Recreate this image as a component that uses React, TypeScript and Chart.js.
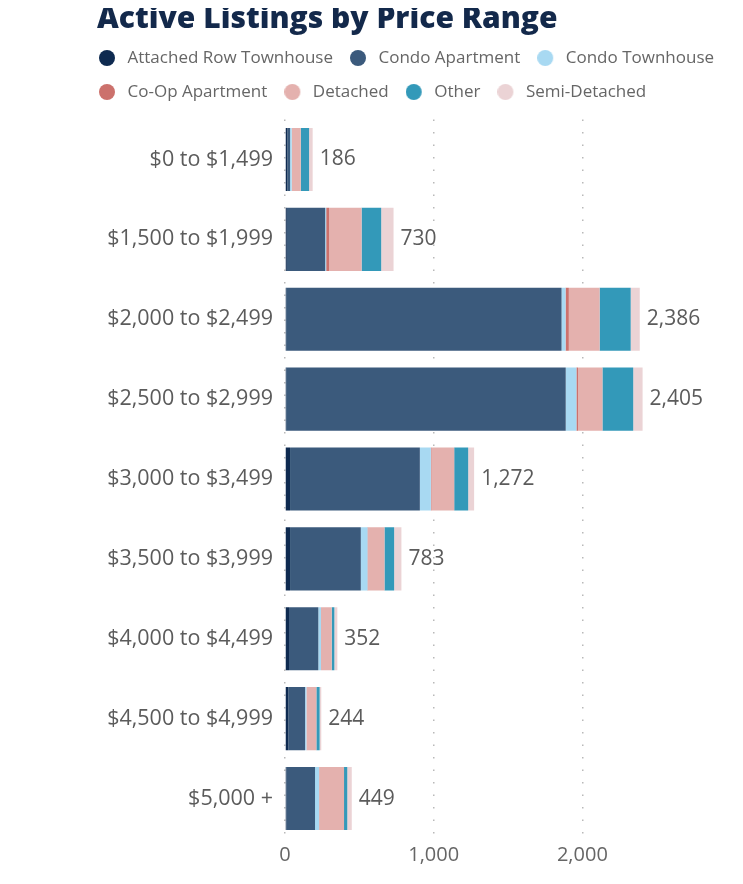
import React, { useEffect, useRef } from 'react';
import { Chart, registerables } from 'chart.js';

Chart.register(...registerables);

const title = 'Active Listings by Price Range';
const categories = [
  '$0 to $1,499',
  '$1,500 to $1,999',
  '$2,000 to $2,499',
  '$2,500 to $2,999',
  '$3,000 to $3,499',
  '$3,500 to $3,999',
  '$4,000 to $4,499',
  '$4,500 to $4,999',
  '$5,000 +',
];
const seriesNames = [
  'Attached Row Townhouse',
  'Condo Apartment',
  'Condo Townhouse',
  'Co-Op Apartment',
  'Detached',
  'Other',
  'Semi-Detached',
];
const attachedRowTownhouse = [16, 12, 8, 8, 34, 34, 27, 22, 9];
const condoApartment = [18, 258, 1852, 1880, 873, 476, 197, 113, 193];
const condoTownhouse = [11, 7, 27, 72, 74, 45, 18, 9, 27];
const coOpApartment = [0, 20, 22, 11, 4, 4, 0, 0, 0];
const detached = [61, 218, 207, 164, 153, 110, 72, 67, 168];
const other = [56, 132, 209, 207, 94, 65, 18, 22, 22];
const semiDetached = [24, 83, 61, 63, 40, 49, 20, 11, 30];
const xTickValues = [0, 1000, 2000];

const seriesValues = [
  attachedRowTownhouse,
  condoApartment,
  condoTownhouse,
  coOpApartment,
  detached,
  other,
  semiDetached,
];
const seriesColors = ['#0e2a50', '#3b5a7c', '#a8d9f2', '#cc716c', '#e4b1ae', '#3399b9', '#ebd3d5'];

const FONT = '"Open Sans", Lato, "DejaVu Sans", sans-serif';

function makeDot(color: string) {
  const c = document.createElement('canvas');
  c.width = 20;
  c.height = 16;
  const ctx = c.getContext('2d')!;
  ctx.fillStyle = color;
  ctx.beginPath();
  ctx.arc(8, 8, 8, 0, Math.PI * 2);
  ctx.fill();
  return c;
}

const totalsPlugin = {
  id: 'totals',
  afterDatasetsDraw(chart: any) {
    const { ctx, scales } = chart;
    const xs = scales.x;
    const ys = scales.y;
    ctx.save();
    ctx.font = `400 21px ${FONT}`;
    ctx.fillStyle = '#5b5b5b';
    ctx.textAlign = 'left';
    ctx.textBaseline = 'middle';
    categories.forEach((_, i) => {
      const total = seriesValues.reduce((s, arr) => s + arr[i], 0);
      const x = xs.getPixelForValue(total) + 7;
      const y = ys.getPixelForValue(i);
      ctx.fillText(total.toLocaleString('en-US'), x, y);
    });
    ctx.restore();
  },
};

const layoutTweaks = {
  id: 'layoutTweaks',
  beforeLayout(chart: any) {
    const lg = chart.legend;
    if (lg && !lg._patchedFit) {
      const f = lg.fit;
      lg.fit = function () {
        f.call(this);
        this.height += 9;
      };
      lg._patchedFit = true;
    }
  },
  afterLayout(chart: any) {
    if (chart.titleBlock) {
      chart.titleBlock.left += 15;
    }
  },
};

export default function App() {
  const ref = useRef<HTMLCanvasElement>(null);

  useEffect(() => {
    if (!ref.current) return;
    const dots = seriesColors.map(makeDot);
    const chart = new Chart(ref.current, {
      type: 'bar',
      data: {
        labels: categories,
        datasets: seriesNames.map((name, i) => ({
          label: name,
          data: seriesValues[i],
          backgroundColor: seriesColors[i],
          borderWidth: 0,
          categoryPercentage: 1,
          barPercentage: 0.79,
        })),
      },
      options: {
        indexAxis: 'y',
        responsive: false,
        animation: false,
        layout: { padding: { left: 82, right: 6, top: 0, bottom: 12.5 } },
        plugins: {
          title: {
            display: true,
            text: title,
            align: 'start',
            color: '#13294b',
            font: { family: FONT, size: 30, weight: '800', lineHeight: '25.5px' },
            padding: { top: 7, bottom: 0 },
          },
          legend: {
            display: true,
            position: 'top',
            align: 'start',
            labels: {
              usePointStyle: true,
              pointStyleWidth: 20,
              boxHeight: 16,
              padding: 17,
              color: '#666666',
              font: { family: FONT, size: 17 },
              generateLabels: (ch: any) =>
                Chart.defaults.plugins.legend.labels
                  .generateLabels(ch)
                  .map((l: any, i: number) => ({ ...l, pointStyle: dots[i] })),
            },
          },
          tooltip: { enabled: false },
        },
        scales: {
          x: {
            stacked: true,
            min: 0,
            max: 3040,
            afterBuildTicks: (axis: any) => {
              axis.ticks = xTickValues.map((v) => ({ value: v }));
            },
            grid: {
              display: true,
              color: '#b9b9b9',
              lineWidth: 1.5,
              drawTicks: false,
            },
            border: { display: false, dash: [1.5, 11] },
            ticks: {
              color: '#666666',
              padding: 4.5,
              font: { family: FONT, size: 20 },
              callback: (v: any) => Number(v).toLocaleString('en-US'),
            },
          },
          y: {
            stacked: true,
            grid: { display: false, drawTicks: false },
            border: { display: false },
            afterFit: (scale: any) => {
              scale.width = 203;
            },
            ticks: {
              color: '#5b5b5b',
              padding: 12,
              font: { family: FONT, size: 21.5 },
            },
          },
        },
      },
      plugins: [totalsPlugin, layoutTweaks],
    } as any);
    return () => chart.destroy();
  }, []);

  return (
    <div style={{ margin: -8, width: 743, height: 884, position: 'relative' }}>
      <canvas ref={ref} width={743} height={884} />
    </div>
  );
}
